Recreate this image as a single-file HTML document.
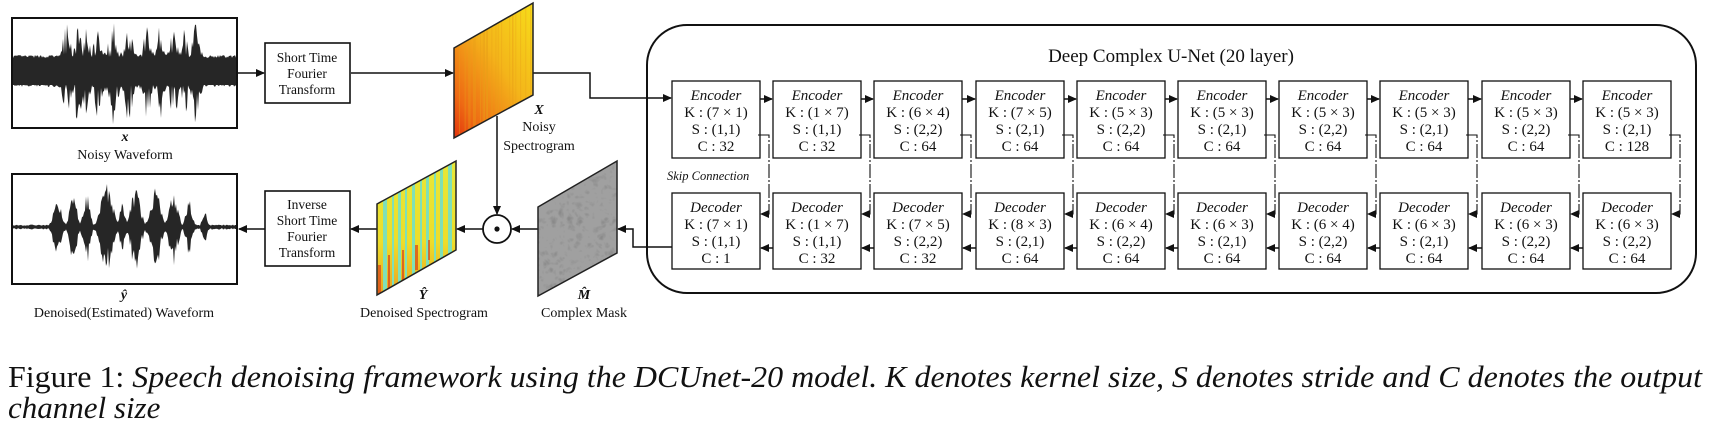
<!DOCTYPE html>
<html><head><meta charset="utf-8"><style>
html,body{margin:0;padding:0;background:#fff;}
svg{display:block;}
text{font-family:"Liberation Serif",serif;fill:#111;}
</style></head><body>
<svg id="s" width="1709" height="432" viewBox="0 0 1709 432" xmlns="http://www.w3.org/2000/svg">
<defs>
<marker id="ah" markerWidth="9" markerHeight="8" refX="8" refY="4" orient="auto" markerUnits="userSpaceOnUse"><path d="M0,0 L9,4 L0,8 Z" fill="#111"/></marker>
<linearGradient id="gX" x1="1" y1="0" x2="0" y2="1"><stop offset="0" stop-color="#f7e21a"/><stop offset="0.45" stop-color="#f4b51a"/><stop offset="0.8" stop-color="#ee6a14"/><stop offset="1" stop-color="#e02a0c"/></linearGradient>
<linearGradient id="gY" x1="0" y1="0" x2="0" y2="1"><stop offset="0" stop-color="#e6e83a"/><stop offset="0.6" stop-color="#eedd2a"/><stop offset="1" stop-color="#e8a020"/></linearGradient>
<filter id="turb" x="0" y="0" width="1" height="1"><feTurbulence type="turbulence" baseFrequency="0.12" numOctaves="2" seed="3"/><feColorMatrix type="matrix" values="0 0 0 0 0.35  0 0 0 0 0.35  0 0 0 0 0.35  0 0 0 -2.2 1.6"/></filter>
<clipPath id="cX"><polygon points="454,48 533,3 533,95 454,138"/></clipPath>
<clipPath id="cY"><polygon points="377,204 456,161 456,250 377,295"/></clipPath>
<clipPath id="cM"><polygon points="538,207 617,161 617,253 538,296"/></clipPath>
<clipPath id="cW1"><rect x="13" y="19" width="223" height="108"/></clipPath>
<clipPath id="cW2"><rect x="13" y="175" width="223" height="108"/></clipPath>
</defs>

<rect x="12" y="18" width="225" height="110" fill="#fff" stroke="#111" stroke-width="2"/>
<g clip-path="url(#cW1)"><rect x="13" y="58" width="223" height="27" fill="#262626"/><path id="w1" fill="#262626"/></g>
<text x="125" y="141" text-anchor="middle" font-style="italic" font-weight="bold" font-size="14">x</text>
<text x="125" y="159" text-anchor="middle" font-size="14">Noisy Waveform</text>

<rect x="12" y="174" width="225" height="110" fill="#fff" stroke="#111" stroke-width="2"/>
<g clip-path="url(#cW2)"><rect x="13" y="226" width="223" height="1.6" fill="#262626"/><path id="w2" fill="#262626"/></g>
<text x="124" y="299" text-anchor="middle" font-style="italic" font-weight="bold" font-size="14">ŷ</text>
<text x="124" y="317" text-anchor="middle" font-size="14">Denoised(Estimated) Waveform</text>

<rect x="265" y="43" width="85" height="60" fill="#fff" stroke="#111" stroke-width="1.6"/>
<text x="307" y="62" text-anchor="middle" font-size="13.5">Short Time</text>
<text x="307" y="78" text-anchor="middle" font-size="13.5">Fourier</text>
<text x="307" y="94" text-anchor="middle" font-size="13.5">Transform</text>
<rect x="265" y="191" width="85" height="75" fill="#fff" stroke="#111" stroke-width="1.6"/>
<text x="307" y="209" text-anchor="middle" font-size="13.5">Inverse</text>
<text x="307" y="225" text-anchor="middle" font-size="13.5">Short Time</text>
<text x="307" y="241" text-anchor="middle" font-size="13.5">Fourier</text>
<text x="307" y="257" text-anchor="middle" font-size="13.5">Transform</text>

<g stroke="#111" stroke-width="1.5" fill="none">
<line x1="238" y1="73" x2="264" y2="73" marker-end="url(#ah)"/>
<line x1="351" y1="73" x2="453" y2="73" marker-end="url(#ah)"/>
<polyline points="533,73 590,73 590,98 671,98" marker-end="url(#ah)"/>
<line x1="497" y1="116" x2="497" y2="214" marker-end="url(#ah)"/>
<line x1="538" y1="229" x2="512" y2="229" marker-end="url(#ah)"/>
<line x1="483" y1="229" x2="457" y2="229" marker-end="url(#ah)"/>
<line x1="377" y1="229" x2="351" y2="229" marker-end="url(#ah)"/>
<line x1="265" y1="229" x2="239" y2="229" marker-end="url(#ah)"/>
<polyline points="672,247 633,247 633,229 618,229" marker-end="url(#ah)"/>
</g>
<circle cx="497" cy="229" r="14" fill="#fff" stroke="#111" stroke-width="1.8"/>
<circle cx="497" cy="229" r="2.6" fill="#111"/>

<g clip-path="url(#cX)"><rect x="450" y="0" width="90" height="140" fill="url(#gX)"/><g id="xs" stroke="#e8a018" stroke-opacity="0.4" stroke-width="1"></g></g>
<polygon points="454,48 533,3 533,95 454,138" fill="none" stroke="#222" stroke-width="1.5"/>
<text x="539" y="114" text-anchor="middle" font-style="italic" font-weight="bold" font-size="14">X</text>
<text x="539" y="131" text-anchor="middle" font-size="14">Noisy</text>
<text x="539" y="150" text-anchor="middle" font-size="14">Spectrogram</text>

<g clip-path="url(#cY)"><rect x="375" y="158" width="85" height="140" fill="url(#gY)"/>
<g fill="#7fe0b8">
<rect x="383" y="160" width="4" height="140"/><rect x="392" y="160" width="2" height="140"/><rect x="398" y="160" width="3" height="140"/><rect x="405" y="160" width="2" height="140"/><rect x="412" y="160" width="3" height="140"/><rect x="420" y="160" width="2" height="140"/><rect x="426" y="160" width="3" height="140"/><rect x="434" y="160" width="2" height="140"/><rect x="440" y="160" width="3" height="140"/><rect x="448" y="160" width="4" height="140"/>
</g>
<g fill="#d84018" opacity="0.7"><rect x="378" y="265" width="3" height="30"/><rect x="388" y="255" width="2" height="40"/><rect x="402" y="250" width="2" height="30"/><rect x="415" y="245" width="3" height="25"/><rect x="428" y="240" width="2" height="20"/></g>
</g>
<polygon points="377,204 456,161 456,250 377,295" fill="none" stroke="#222" stroke-width="1.5"/>
<text x="423" y="299" text-anchor="middle" font-style="italic" font-weight="bold" font-size="14">Ŷ</text>
<text x="424" y="317" text-anchor="middle" font-size="14">Denoised Spectrogram</text>

<g clip-path="url(#cM)"><rect x="536" y="158" width="84" height="140" fill="#8a8a8a"/><rect x="536" y="158" width="84" height="140" fill="#fff" filter="url(#turb)"/></g>
<polygon points="538,207 617,161 617,253 538,296" fill="none" stroke="#222" stroke-width="1.5"/>
<text x="584" y="299" text-anchor="middle" font-style="italic" font-weight="bold" font-size="14">M̂</text>
<text x="584" y="317" text-anchor="middle" font-size="14">Complex Mask</text>

<rect x="647" y="25" width="1049" height="268" rx="40" ry="40" fill="none" stroke="#111" stroke-width="2"/>
<text x="1171" y="62" text-anchor="middle" font-size="19">Deep Complex U-Net (20 layer)</text>
<text x="667" y="180" font-style="italic" font-size="12.5">Skip Connection</text>

<g id="cols" font-size="15" text-anchor="middle"></g>

<text x="8" y="387" font-size="31" textLength="1694" lengthAdjust="spacingAndGlyphs">Figure 1: <tspan font-style="italic">Speech denoising framework using the DCUnet-20 model.  K denotes kernel size, S denotes stride and C denotes the output</tspan></text>
<text x="8" y="418" font-size="31" font-style="italic">channel size</text>
</svg>
<script>
(function(){
var enc=[["7 × 1","1,1","32"],["1 × 7","1,1","32"],["6 × 4","2,2","64"],["7 × 5","2,1","64"],["5 × 3","2,2","64"],["5 × 3","2,1","64"],["5 × 3","2,2","64"],["5 × 3","2,1","64"],["5 × 3","2,2","64"],["5 × 3","2,1","128"]];
var dec=[["7 × 1","1,1","1"],["1 × 7","1,1","32"],["7 × 5","2,2","32"],["8 × 3","2,1","64"],["6 × 4","2,2","64"],["6 × 3","2,1","64"],["6 × 4","2,2","64"],["6 × 3","2,1","64"],["6 × 3","2,2","64"],["6 × 3","2,2","64"]];
var xs=[672,773,874,976,1077,1178,1279,1380,1482,1583];
var h="";
for(var i=0;i<10;i++){
 var x=xs[i];
 h+='<g transform="translate('+x+',0)">';
 h+='<rect x="0" y="81" width="88" height="77" fill="#fff" stroke="#111" stroke-width="1.3"/>';
 h+='<text x="44" y="100" font-style="italic">Encoder</text><text x="44" y="117">K : ('+enc[i][0]+')</text><text x="44" y="134">S : ('+enc[i][1]+')</text><text x="44" y="151">C : '+enc[i][2]+'</text>';
 h+='<rect x="0" y="193" width="88" height="76" fill="#fff" stroke="#111" stroke-width="1.3"/>';
 h+='<text x="44" y="212" font-style="italic">Decoder</text><text x="44" y="229">K : ('+dec[i][0]+')</text><text x="44" y="246">S : ('+dec[i][1]+')</text><text x="44" y="263">C : '+dec[i][2]+'</text>';
 h+='<polyline points="86,135 97,135 97,214 89,214" fill="none" stroke="#111" stroke-width="1.1" stroke-dasharray="14 2 2 2" marker-end="url(#ah)"/>';
 if(i<9){
  var n=xs[i+1]-x;
  h+='<line x1="88" y1="99" x2="'+(n-1)+'" y2="99" stroke="#111" stroke-width="1.5" marker-end="url(#ah)"/>';
  h+='<line x1="'+n+'" y1="248" x2="89" y2="248" stroke="#111" stroke-width="1.5" marker-end="url(#ah)"/>';
 }
 h+='</g>';
}
document.getElementById("cols").innerHTML=h;
var seed=7;function r(){seed=(seed*16807)%2147483647;return seed/2147483647;}
var pts=[],bot=[];
var bursts=[[0.24,0.02],[0.29,0.02],[0.33,0.015],[0.38,0.02],[0.45,0.025],[0.52,0.02],[0.6,0.02],[0.66,0.015],[0.72,0.02],[0.77,0.015],[0.82,0.02]];
for(var x=13;x<=236;x+=1){
 var t=(x-13)/223, bf=0;
 for(var b=0;b<bursts.length;b++){var d=(t-bursts[b][0])/bursts[b][1];bf=Math.max(bf,Math.exp(-d*d));}
 var up=13+r()*3+bf*r()*34, dn=13+r()*3+bf*r()*40;
 pts.push(x+","+(71-up));bot.push(x+","+(71+dn));
}
document.getElementById("w1").setAttribute("d","M"+pts.join(" L")+" L"+bot.reverse().join(" L")+"Z");
pts=[];bot=[];
var bb=[[0.2,0.025,28],[0.27,0.02,40],[0.33,0.02,35],[0.42,0.035,45],[0.49,0.015,30],[0.55,0.03,40],[0.64,0.03,42],[0.72,0.025,38],[0.79,0.02,28],[0.86,0.015,18]];
for(var x=13;x<=236;x+=1){
 var t=(x-13)/223, env=1.2+r()*1.2;
 for(var b=0;b<bb.length;b++){var d=(t-bb[b][0])/bb[b][1];env=Math.max(env,bb[b][2]*Math.exp(-d*d)*(0.5+0.5*r()));}
 env=Math.min(env,50);
 pts.push(x+","+(227-env));bot.push(x+","+(227+env*(0.8+0.4*r())));
}
document.getElementById("w2").setAttribute("d","M"+pts.join(" L")+" L"+bot.reverse().join(" L")+"Z");
var g=document.getElementById("xs"),s="";
for(var k=0;k<25;k++){var xx=455+r()*78;s+='<line x1="'+xx+'" y1="0" x2="'+xx+'" y2="140"/>';}
g.innerHTML=s;
})();
</script>
</body></html>
